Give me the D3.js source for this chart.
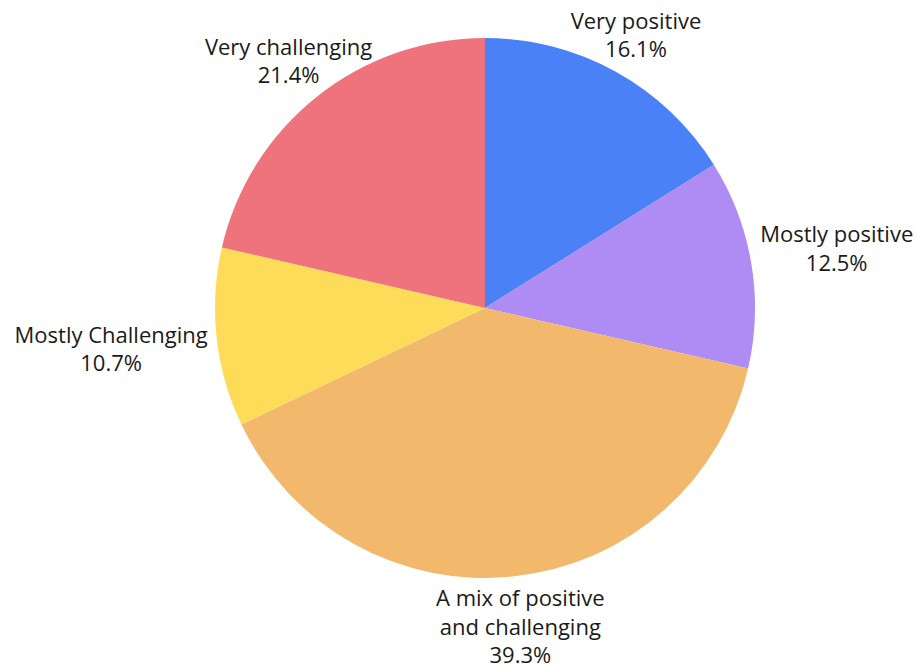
<!DOCTYPE html>
<html>
<head>
<meta charset="utf-8">
<script src="https://cdn.jsdelivr.net/npm/d3@7"></script>
<style>
  html, body { margin: 0; padding: 0; background: #ffffff; }
  svg { display: block; }
  text { font-family: "Open Sans", "Noto Sans", sans-serif; fill: #1a1a1a; }
</style>
</head>
<body>
<svg id="chart" width="917" height="665"></svg>
<script>
// Survey responses: how the experience felt overall
const categories = [
  "Very positive",
  "Mostly positive",
  "A mix of positive and challenging",
  "Mostly Challenging",
  "Very challenging"
];
const values = [16.1, 12.5, 39.3, 10.7, 21.4];
const labelLines = [
  ["Very positive"],
  ["Mostly positive"],
  ["A mix of positive", "and challenging"],
  ["Mostly Challenging"],
  ["Very challenging"]
];
const colors = ["#4B81F7", "#AE8CF4", "#F2B86C", "#FEDC5A", "#EF737D"];

const width = 917, height = 665;
const cx = 485, cy = 308, radius = 270;
const labelRadius = 279;
const fontSize = 22, lineHeight = 28.5;

const svg = d3.select("#chart");
const g = svg.append("g").attr("transform", `translate(${cx},${cy})`);

const data = categories.map((c, i) => ({ category: c, value: values[i], lines: labelLines[i], color: colors[i] }));

const pie = d3.pie().value(d => d.value).sort(null);
const arc = d3.arc().innerRadius(0).outerRadius(radius);
const arcs = pie(data);

g.selectAll("path.slice")
  .data(arcs)
  .join("path")
  .attr("class", "slice")
  .attr("d", arc)
  .attr("fill", d => d.data.color);

// Labels sit on the slice's mid-angle ray, pushed out until the ray leaves
// the text block just beyond the rim.
const labels = g.selectAll("g.label")
  .data(arcs)
  .join("g")
  .attr("class", "label");

labels.each(function(d) {
  const sel = d3.select(this);
  const lines = d.data.lines.concat([d.data.value.toFixed(1) + "%"]);
  const n = lines.length;
  const t = sel.append("text")
    .attr("text-anchor", "middle")
    .style("font-size", fontSize + "px");
  lines.forEach((ln, i) => {
    t.append("tspan")
      .attr("x", 0)
      .attr("y", (i - (n - 1) / 2) * lineHeight)
      .attr("dy", "0.35em")
      .text(ln);
  });
  const bb = t.node().getBBox();
  const hw = bb.width / 2, hh = n * lineHeight / 2;
  const a = (d.startAngle + d.endAngle) / 2;
  const sx = Math.sin(a), sy = -Math.cos(a);
  const tExit = Math.min(
    Math.abs(sx) > 1e-6 ? hw / Math.abs(sx) : Infinity,
    Math.abs(sy) > 1e-6 ? hh / Math.abs(sy) : Infinity
  );
  const dist = labelRadius + tExit;
  const x = sx * dist;
  let y = sy * dist;
  // keep the glyphs inside the page
  const top = cy + y - hh;
  if (top < 6) y += 6 - top;
  const lastBaseline = cy + y + ((n - 1) / 2) * lineHeight + 0.35 * fontSize;
  if (lastBaseline > height - 2) y -= lastBaseline - (height - 2);
  sel.attr("transform", `translate(${x},${y})`);
});
</script>
</body>
</html>
